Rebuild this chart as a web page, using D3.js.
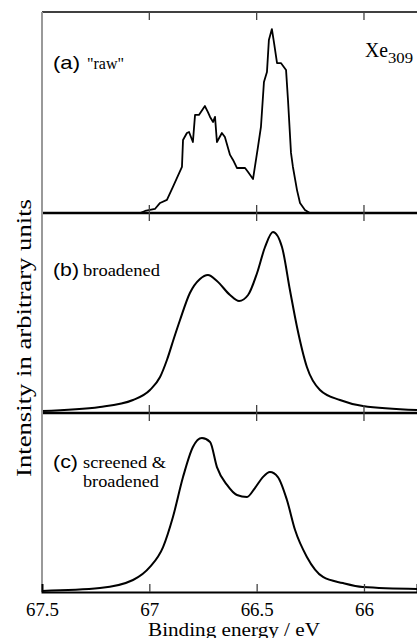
<!DOCTYPE html>
<html lang="en">
<head>
    <meta charset="UTF-8">
    <script src="https://d3js.org/d3.v7.min.js"></script>
    <title>Xe309 spectrum</title>
    <style>
        body { margin: 0; background: #fff; }
    </style>
</head>
<body>
    <svg width="417" height="638"></svg>
    <script>
        var width = 417, height = 638;
        var serif = '"Liberation Serif", "Times New Roman", serif';
        var sans = '"Liberation Sans", Arial, sans-serif';

        // x axis (binding energy, reversed)
        var tickValues = [67.5, 67, 66.5, 66];

        // (a) raw spectrum
        var rawEnergy = [67.5, 67.043, 67.020, 66.997, 66.974, 66.950, 66.918, 66.890, 66.848, 66.843, 66.825,
            66.815, 66.797, 66.787, 66.769, 66.741, 66.727, 66.717, 66.703, 66.694, 66.685, 66.662, 66.648,
            66.624, 66.610, 66.592, 66.554, 66.540, 66.517, 66.494, 66.480, 66.466, 66.452, 66.443, 66.429,
            66.419, 66.405, 66.387, 66.363, 66.354, 66.340, 66.331, 66.312, 66.298, 66.275, 66.252, 65.753];
        var rawIntensity = [0, 0, 0.01, 0.015, 0.02, 0.05, 0.065, 0.13, 0.229, 0.363, 0.398,
            0.403, 0.353, 0.488, 0.488, 0.532, 0.502, 0.478, 0.453, 0.478, 0.353, 0.398, 0.378,
            0.289, 0.264, 0.224, 0.224, 0.204, 0.169, 0.328, 0.428, 0.652, 0.701, 0.861, 0.915,
            0.846, 0.746, 0.746, 0.711, 0.562, 0.299, 0.229, 0.114, 0.05, 0.015, 0, 0];

        // (b) broadened
        var broadEnergy = [67.5, 67.230, 67.076, 66.997, 66.950, 66.918, 66.885, 66.857, 66.811, 66.764, 66.727,
            66.685, 66.624, 66.582, 66.540, 66.498, 66.461, 66.424, 66.382, 66.345, 66.312, 66.266,
            66.205, 66.112, 66.005, 65.753];
        var broadIntensity = [0.01, 0.03, 0.065, 0.115, 0.18, 0.265, 0.375, 0.465, 0.60, 0.67, 0.69,
            0.66, 0.59, 0.56, 0.59, 0.70, 0.83, 0.905, 0.83, 0.615, 0.43, 0.23,
            0.115, 0.065, 0.035, 0.015];

        // (c) screened & broadened
        var screenEnergy = [67.5, 67.230, 67.076, 66.997, 66.936, 66.890, 66.843, 66.797, 66.755, 66.717, 66.685,
            66.638, 66.592, 66.545, 66.508, 66.471, 66.438, 66.401, 66.359, 66.321, 66.266, 66.191,
            66.098, 66.005, 65.753];
        var screenIntensity = [0.006, 0.022, 0.067, 0.14, 0.251, 0.419, 0.642, 0.81, 0.86, 0.838, 0.698,
            0.598, 0.542, 0.531, 0.581, 0.642, 0.67, 0.642, 0.514, 0.346, 0.196, 0.084,
            0.05, 0.028, 0.017];

        var left = 42, right = 417;
        var top0 = 12, sep1 = 213, sep2 = 413, bottom = 592;

        var svg = d3.select('svg');

        var x = d3.scaleLinear().domain([67.5, 65.753]).range([left, right]);

        var panels = [
            { energy: rawEnergy, intensity: rawIntensity, y0: sep1, y1: top0, curve: d3.curveLinear, w: 1.8 },
            { energy: broadEnergy, intensity: broadIntensity, y0: sep2, y1: sep1, curve: d3.curveMonotoneX, w: 2 },
            { energy: screenEnergy, intensity: screenIntensity, y0: bottom, y1: sep2, curve: d3.curveMonotoneX, w: 2 }
        ];

        panels.forEach(function(p) {
            var y = d3.scaleLinear().domain([0, 1]).range([p.y0, p.y1]);
            var line = d3.line()
                .x(function(d, i) { return x(p.energy[i]); })
                .y(function(d) { return y(d); })
                .curve(p.curve);
            svg.append('path')
                .attr('d', line(p.intensity))
                .attr('fill', 'none')
                .attr('stroke', '#000')
                .attr('stroke-width', p.w)
                .attr('stroke-linejoin', 'round');
        });

        // frame lines
        svg.append('line').attr('x1', left).attr('x2', right).attr('y1', top0).attr('y2', top0)
            .attr('stroke', '#000').attr('stroke-width', 1.5);
        [sep1, sep2].forEach(function(s) {
            svg.append('line').attr('x1', left).attr('x2', right).attr('y1', s).attr('y2', s)
                .attr('stroke', '#000').attr('stroke-width', 2.5);
        });
        svg.append('line').attr('x1', left).attr('x2', left).attr('y1', top0).attr('y2', bottom)
            .attr('stroke', '#999').attr('stroke-width', 2);

        // ticks at top and at panel separators
        var inner = tickValues.slice(1);
        svg.selectAll('.toptick').data(inner).join('line')
            .attr('x1', function(d) { return x(d); }).attr('x2', function(d) { return x(d); })
            .attr('y1', top0).attr('y2', top0 + 8)
            .attr('stroke', '#444').attr('stroke-width', 1.3);
        [sep1, sep2].forEach(function(s) {
            svg.selectAll(null).data(inner).join('line')
                .attr('x1', function(d) { return x(d); }).attr('x2', function(d) { return x(d); })
                .attr('y1', s - 8).attr('y2', s + 8)
                .attr('stroke', '#444').attr('stroke-width', 1.3);
        });

        // bottom axis
        var axis = svg.append('g')
            .attr('transform', 'translate(0,' + bottom + ')')
            .call(d3.axisBottom(x).tickValues(tickValues).tickSize(-8).tickPadding(11)
                .tickFormat(function(d) { return String(d); }));
        axis.select('.domain').attr('stroke', '#000').attr('stroke-width', 2);
        axis.selectAll('.tick line').attr('stroke', '#444').attr('stroke-width', 1.3)
            .attr('display', function(d) { return d === 67.5 ? 'none' : null; });
        axis.selectAll('.tick text')
            .attr('font-family', serif)
            .attr('font-size', 18)
            .attr('fill', '#000')
            .attr('textLength', function(d) { return String(d).length * 9.5 - (String(d).indexOf('.') >= 0 ? 5 : 0); })
            .attr('lengthAdjust', 'spacingAndGlyphs');

        function label(txt, font, size, xx, yy, len) {
            var t = svg.append('text')
                .attr('font-family', font)
                .attr('x', xx).attr('y', yy)
                .attr('font-size', size)
                .text(txt);
            if (len) t.attr('textLength', len).attr('lengthAdjust', 'spacingAndGlyphs');
            return t;
        }

        // axis titles
        label('Binding energy / eV', serif, 18, 148, 636, 172);
        svg.append('text')
            .attr('font-family', serif)
            .attr('transform', 'translate(31,477) rotate(-90)')
            .attr('font-size', 21)
            .attr('textLength', 278)
            .attr('lengthAdjust', 'spacingAndGlyphs')
            .text('Intensity in arbitrary units');

        // panel labels
        label('(a)', sans, 19, 53, 69, 27);
        label('"raw"', serif, 16, 87, 69, 37);
        label('Xe', serif, 21, 365, 57, 23);
        label('309', serif, 15, 388, 63, 25);

        label('(b)', sans, 19, 53, 276, 26);
        label('broadened', serif, 17, 83, 276, 77);

        label('(c)', sans, 19, 53, 468, 25);
        label('screened &', serif, 16, 83, 468, 83);
        label('broadened', serif, 16, 83, 487, 76);
    </script>
</body>
</html>
